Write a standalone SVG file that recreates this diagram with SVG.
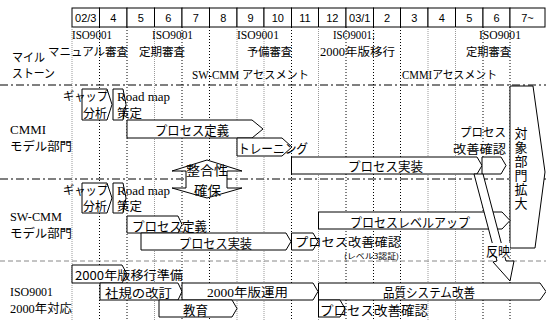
<svg xmlns="http://www.w3.org/2000/svg" width="546" height="321" viewBox="0 0 546 321">
<style>
.hd{fill:#fff;stroke:#000;stroke-width:1}
.ht{font-family:"Liberation Sans",sans-serif;font-size:11px;text-anchor:middle}
.gb{stroke:#000;stroke-width:1;stroke-dasharray:1,2}
.gg{stroke:#999;stroke-width:1;stroke-dasharray:1,1}
.sep{stroke:#000;stroke-width:1;stroke-dasharray:8,3,2,3}
.sepg{stroke:#888;stroke-width:1;stroke-dasharray:5,3}
.bar{fill:#fff;stroke:#000;stroke-width:1}
.j{font-family:"Noto Sans CJK JP",sans-serif;font-size:13px}
.j2{font-family:"Noto Sans CJK JP",sans-serif;font-size:12px}
.m{font-family:"Liberation Serif","Noto Sans CJK JP",serif;font-size:11.5px}
.s{font-family:"Liberation Serif","Noto Sans CJK JP",serif;font-size:12px}
.sm{font-family:"Noto Sans CJK JP",sans-serif;font-size:7.5px}
</style>
<rect width="546" height="321" fill="#fff"/>
<g id="header">
<rect class="hd" x="72" y="8" width="27.5" height="19"/><text class="ht" x="85.75" y="22">02/3</text>
<rect class="hd" x="99.5" y="8" width="27.5" height="19"/><text class="ht" x="113.25" y="22">4</text>
<rect class="hd" x="127" y="8" width="27.5" height="19"/><text class="ht" x="140.75" y="22">5</text>
<rect class="hd" x="154.5" y="8" width="27.5" height="19"/><text class="ht" x="168.25" y="22">6</text>
<rect class="hd" x="182" y="8" width="27.5" height="19"/><text class="ht" x="195.75" y="22">7</text>
<rect class="hd" x="209.5" y="8" width="27.5" height="19"/><text class="ht" x="223.25" y="22">8</text>
<rect class="hd" x="237" y="8" width="27" height="19"/><text class="ht" x="250.5" y="22">9</text>
<rect class="hd" x="264" y="8" width="27.5" height="19"/><text class="ht" x="277.75" y="22">10</text>
<rect class="hd" x="291.5" y="8" width="27" height="19"/><text class="ht" x="305" y="22">11</text>
<rect class="hd" x="318.5" y="8" width="27.5" height="19"/><text class="ht" x="332.25" y="22">12</text>
<rect class="hd" x="346" y="8" width="27.5" height="19"/><text class="ht" x="359.75" y="22">03/1</text>
<rect class="hd" x="373.5" y="8" width="27" height="19"/><text class="ht" x="387" y="22">2</text>
<rect class="hd" x="400.5" y="8" width="27.5" height="19"/><text class="ht" x="414.25" y="22">3</text>
<rect class="hd" x="428" y="8" width="27.5" height="19"/><text class="ht" x="441.75" y="22">4</text>
<rect class="hd" x="455.5" y="8" width="27.5" height="19"/><text class="ht" x="469.25" y="22">5</text>
<rect class="hd" x="483" y="8" width="27" height="19"/><text class="ht" x="496.5" y="22">6</text>
<rect class="hd" x="510" y="8" width="35" height="19"/><text class="ht" x="527.5" y="22">7~</text>
</g>
<g id="grid">
<line class="gg" x1="72" y1="27" x2="72" y2="320"/>
<line class="gb" x1="99.5" y1="27" x2="99.5" y2="320"/>
<line class="gb" x1="127" y1="27" x2="127" y2="320"/>
<line class="gg" x1="154.5" y1="27" x2="154.5" y2="320"/>
<line class="gb" x1="182" y1="27" x2="182" y2="320"/>
<line class="gb" x1="209.5" y1="27" x2="209.5" y2="320"/>
<line class="gg" x1="237" y1="27" x2="237" y2="320"/>
<line class="gg" x1="264" y1="27" x2="264" y2="320"/>
<line class="gb" x1="291.5" y1="27" x2="291.5" y2="320"/>
<line class="gg" x1="318.5" y1="27" x2="318.5" y2="320"/>
<line class="gb" x1="346" y1="27" x2="346" y2="320"/>
<line class="gb" x1="373.5" y1="27" x2="373.5" y2="320"/>
<line class="gb" x1="400.5" y1="27" x2="400.5" y2="320"/>
<line class="gg" x1="428" y1="27" x2="428" y2="320"/>
<line class="gg" x1="455.5" y1="27" x2="455.5" y2="320"/>
<line class="gb" x1="483" y1="27" x2="483" y2="320"/>
<line class="gb" x1="510" y1="27" x2="510" y2="320"/>
<line class="sep" x1="0" y1="85" x2="546" y2="85"/>
<line class="sep" x1="0" y1="179" x2="546" y2="179"/>
<line class="sepg" x1="0" y1="261" x2="546" y2="261"/>
</g>
<g id="milestones">
<text class="j2" x="12" y="62" textLength="33" lengthAdjust="spacingAndGlyphs">マイル</text>
<text class="j2" x="12" y="78" textLength="43" lengthAdjust="spacingAndGlyphs">ストーン</text>
<text class="m" x="72" y="39" textLength="40" lengthAdjust="spacingAndGlyphs">ISO9001</text>
<text class="m" x="48" y="56" textLength="80" lengthAdjust="spacingAndGlyphs">マニュアル審査</text>
<text class="m" x="152" y="39" textLength="41" lengthAdjust="spacingAndGlyphs">ISO9001</text>
<text class="m" x="139" y="56" textLength="46" lengthAdjust="spacingAndGlyphs">定期審査</text>
<text class="m" x="237" y="39" textLength="42" lengthAdjust="spacingAndGlyphs">ISO9001</text>
<text class="m" x="247" y="56" textLength="45" lengthAdjust="spacingAndGlyphs">予備審査</text>
<text class="m" x="333" y="39" textLength="42" lengthAdjust="spacingAndGlyphs">ISO9001:</text>
<text class="m" x="320" y="56" textLength="75" lengthAdjust="spacingAndGlyphs">2000年版移行</text>
<text class="m" x="479" y="39" textLength="42" lengthAdjust="spacingAndGlyphs">ISO9001</text>
<text class="m" x="466" y="56" textLength="45" lengthAdjust="spacingAndGlyphs">定期審査</text>
<text class="m" x="192" y="79" textLength="117" lengthAdjust="spacingAndGlyphs">SW-CMM アセスメント</text>
<text class="m" x="402" y="79" textLength="95" lengthAdjust="spacingAndGlyphs">CMMIアセスメント</text>
</g>
<g id="labels">
<text class="s" x="10" y="134" textLength="36" lengthAdjust="spacingAndGlyphs">CMMI</text>
<text class="j2" x="10" y="151" textLength="62" lengthAdjust="spacingAndGlyphs">モデル部門</text>
<text class="s" x="10" y="221" textLength="52" lengthAdjust="spacingAndGlyphs">SW-CMM</text>
<text class="j2" x="10" y="238" textLength="62" lengthAdjust="spacingAndGlyphs">モデル部門</text>
<text class="s" x="10" y="296" textLength="43" lengthAdjust="spacingAndGlyphs">ISO9001</text>
<text class="s" x="10" y="313" textLength="62" lengthAdjust="spacingAndGlyphs">2000年対応</text>
</g>
<g id="cmmi-gap">
<polygon class="bar" points="82,89 107,89 112,104.5 107,120 82,120"/>
<text class="j2" x="63" y="101" textLength="45" lengthAdjust="spacingAndGlyphs">ギャップ</text>
<text class="j2" x="83" y="118" textLength="24" lengthAdjust="spacingAndGlyphs">分析</text>
</g>
<g id="cmmi-roadmap">
<polygon class="bar" points="113,89 123,89 126,104.5 123,120 113,120"/>
<text class="s" x="117" y="101" textLength="53" lengthAdjust="spacingAndGlyphs">Road map</text>
<text class="j2" x="117" y="118" textLength="25" lengthAdjust="spacingAndGlyphs">策定</text>
</g>
<g id="cmmi-define">
<polygon class="bar" points="127,120 252,120 263,129 252,138 127,138"/>
<text class="j" x="155" y="135" textLength="74" lengthAdjust="spacingAndGlyphs">プロセス定義</text>
</g>
<g id="cmmi-training">
<polygon class="bar" points="237,138 282,138 292,147 282,156 237,156"/>
<text class="j" x="238" y="153" textLength="70" lengthAdjust="spacingAndGlyphs">トレーニング</text>
</g>
<g id="cmmi-impl">
<polygon class="bar" points="291.5,157 477,157 482,165.5 477,174 291.5,174"/>
<text class="j" x="348" y="171" textLength="75" lengthAdjust="spacingAndGlyphs">プロセス実装</text>
</g>
<g id="cmmi-confirm">
<polygon class="bar" points="482,157 501,157 506,165.5 501,174 482,174"/>
<text class="j2" x="460" y="137" textLength="46" lengthAdjust="spacingAndGlyphs">プロセス</text>
<text class="j2" x="453" y="154" textLength="53" lengthAdjust="spacingAndGlyphs">改善確認</text>
</g>
<g id="align">
<polygon class="bar" points="207,160 242,171 227,171 227,188 242,188 207,198 172,188 186,188 186,171 172,171"/>
<text class="j" x="186" y="175" textLength="42" lengthAdjust="spacingAndGlyphs">整合性</text>
<text class="j" x="194" y="195" textLength="27" lengthAdjust="spacingAndGlyphs">確保</text>
</g>
<g id="expand">
<polygon class="bar" points="510,86 533,86 545,172 535,248 510,248"/>
<text class="j" x="521" y="127" writing-mode="tb" letter-spacing="1">対象部門拡大</text>
</g>
<g id="sw-gap">
<polygon class="bar" points="82,183 107,183 112,198 107,213 82,213"/>
<text class="j2" x="63" y="195" textLength="45" lengthAdjust="spacingAndGlyphs">ギャップ</text>
<text class="j2" x="83" y="211" textLength="24" lengthAdjust="spacingAndGlyphs">分析</text>
</g>
<g id="sw-roadmap">
<polygon class="bar" points="113,183 123,183 126,198 123,213 113,213"/>
<text class="s" x="117" y="195" textLength="53" lengthAdjust="spacingAndGlyphs">Road map</text>
<text class="j2" x="117" y="211" textLength="25" lengthAdjust="spacingAndGlyphs">策定</text>
</g>
<g id="sw-levelup">
<polygon class="bar" points="318.5,212 502,212 510,220.5 502,229 318.5,229"/>
<text class="j" x="350" y="227" textLength="120" lengthAdjust="spacingAndGlyphs">プロセスレベルアップ</text>
</g>
<g id="sw-define">
<polygon class="bar" points="127,216 178,216 182,224.5 178,233 127,233"/>
<text class="j" x="132" y="231" textLength="75" lengthAdjust="spacingAndGlyphs">プロセス定義</text>
</g>
<g id="sw-impl">
<polygon class="bar" points="141,233 286,233 291,241.5 286,250 141,250"/>
<text class="j" x="179" y="248" textLength="73" lengthAdjust="spacingAndGlyphs">プロセス実装</text>
</g>
<g id="sw-confirm">
<polygon class="bar" points="291.5,233 313,233 318,241.5 313,250 291.5,250"/>
<text class="j2" x="295" y="246.5" textLength="106" lengthAdjust="spacingAndGlyphs">プロセス改善確認</text>
<text class="sm" x="344" y="259" textLength="55" lengthAdjust="spacingAndGlyphs">(レベル3認証)</text>
</g>
<g id="iso-prep">
<polygon class="bar" points="72,265 122,265 127,274 122,283 72,283"/>
<text class="j2" x="75" y="279.5" textLength="108" lengthAdjust="spacingAndGlyphs">2000年版移行準備</text>
</g>
<g id="iso-rules">
<polygon class="bar" points="100,283 178,283 182,291.5 178,300 100,300"/>
<text class="j2" x="105" y="297.5" textLength="67" lengthAdjust="spacingAndGlyphs">社規の改訂</text>
</g>
<g id="iso-operate">
<polygon class="bar" points="182,283 313,283 318,291.5 313,300 182,300"/>
<text class="s" x="207" y="297" font-size="13" textLength="81" lengthAdjust="spacingAndGlyphs">2000年版運用</text>
</g>
<g id="iso-quality">
<polygon class="bar" points="318.5,283 540,283 546,291.5 540,300 318.5,300"/>
<text class="j" x="383" y="297" textLength="92" lengthAdjust="spacingAndGlyphs">品質システム改善</text>
</g>
<g id="iso-edu">
<polygon class="bar" points="159,300 232,300 237,308.5 232,317 159,317"/>
<text class="j" x="183" y="315" textLength="25" lengthAdjust="spacingAndGlyphs">教育</text>
</g>
<g id="iso-confirm">
<polygon class="bar" points="318.5,300 340,300 345,308.5 340,317 318.5,317"/>
<text class="j" x="320" y="315" textLength="108" lengthAdjust="spacingAndGlyphs">プロセス改善確認</text>
</g>
<g id="connectors">
<path class="bar" d="M474,174 L497,261 L493,262 L510,281 L514,261 L506,261 L483,174 Z"/>
<rect x="486" y="243" width="24" height="14" fill="#fff"/>
<text class="j" x="486" y="256" textLength="24" lengthAdjust="spacingAndGlyphs">反映</text>
</g>
</svg>
